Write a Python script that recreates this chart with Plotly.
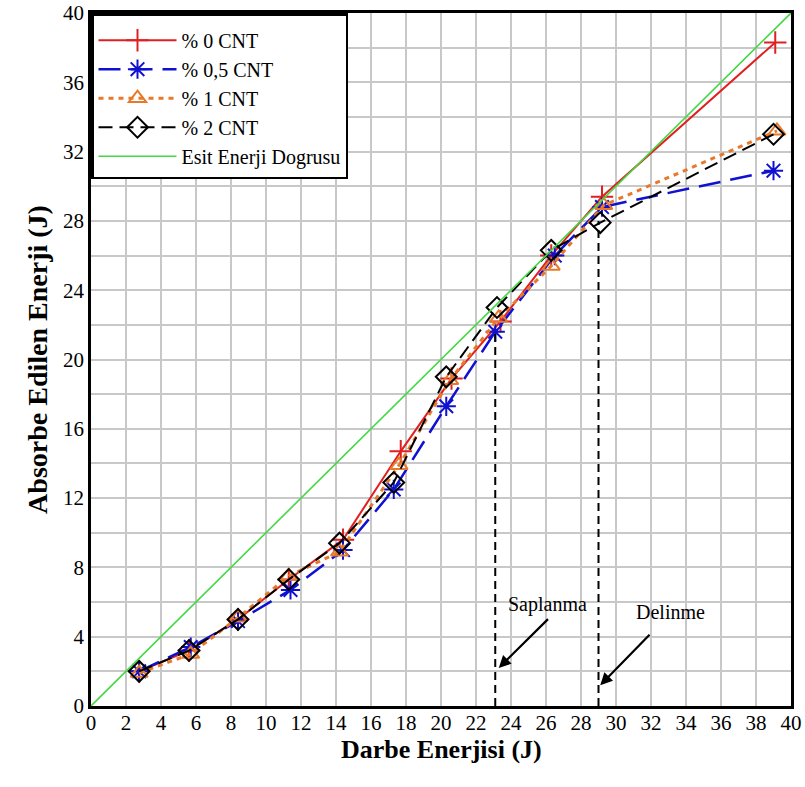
import plotly.graph_objects as go

# Impact energy (J) and absorbed energy (J) for each CNT content
x_cnt0 = [2.75, 5.6, 8.4, 11.3, 14.4, 17.7, 20.6, 23.4, 26.3, 29.2, 39.1]
y_cnt0 = [2.0, 3.2, 5.0, 7.3, 9.6, 14.7, 18.9, 22.2, 26.0, 29.4, 38.3]

x_cnt05 = [2.75, 5.7, 8.4, 11.4, 14.4, 17.3, 20.3, 23.1, 26.5, 29.2, 39.0]
y_cnt05 = [2.0, 3.4, 4.9, 6.7, 9.0, 12.5, 17.3, 21.6, 26.0, 28.8, 30.9]

x_cnt1 = [2.75, 5.7, 8.4, 11.3, 14.2, 17.6, 20.5, 23.3, 26.3, 29.3, 39.2]
y_cnt1 = [1.9, 3.0, 5.1, 7.5, 8.9, 13.9, 18.8, 22.4, 25.4, 28.9, 33.2]

x_cnt2 = [2.75, 5.6, 8.4, 11.3, 14.2, 17.3, 20.3, 23.2, 26.3, 29.1, 39.0]
y_cnt2 = [2.0, 3.2, 5.0, 7.3, 9.4, 12.9, 19.0, 23.0, 26.3, 27.9, 33.0]

# Equal-energy reference line
equal_x = [0, 40]
equal_y = [0, 40]

# Damage transitions: impact energy and the absorbed energy they reach
event_x = [23.1, 29.0]
event_top = [21.6, 28.0]
event_labels = ["Saplanma", "Delinme"]
event_label_pos = [(26.1, 5.85), (33.1, 5.4)]
event_arrow_tail = [(26.2, 5.1), (32.0, 4.2)]
event_arrow_head = [(23.3, 2.2), (29.1, 1.2)]

x_ticks = list(range(0, 41, 2))
y_ticks = list(range(0, 41, 4))

SERIF = "Liberation Serif, Times New Roman, serif"

fig = go.Figure()

fig.add_trace(go.Scatter(
    x=x_cnt0, y=y_cnt0, name="% 0 CNT", mode="lines+markers",
    line=dict(color="#e02020", width=2),
    marker=dict(symbol="cross-thin-open", size=16, color="#e02020",
                line=dict(color="#e02020", width=2)),
))
fig.add_trace(go.Scatter(
    x=x_cnt05, y=y_cnt05, name="% 0,5 CNT", mode="lines+markers",
    line=dict(color="#1010d0", width=2.5, dash="22px,10px"),
    marker=dict(symbol="asterisk-open", size=16, color="#1010d0",
                line=dict(color="#1010d0", width=2)),
))
fig.add_trace(go.Scatter(
    x=x_cnt1, y=y_cnt1, name="% 1 CNT", mode="lines+markers",
    line=dict(color="#e8792a", width=3, dash="5px,5px"),
    marker=dict(symbol="triangle-up-open", size=15, color="#e8792a",
                line=dict(color="#e8792a", width=2)),
))
fig.add_trace(go.Scatter(
    x=x_cnt2, y=y_cnt2, name="% 2 CNT", mode="lines+markers",
    line=dict(color="black", width=2, dash="14px,7px"),
    marker=dict(symbol="diamond-open", size=16, color="black",
                line=dict(color="black", width=2)),
))
fig.add_trace(go.Scatter(
    x=equal_x, y=equal_y, name="Esit Enerji Dogrusu", mode="lines",
    line=dict(color="#44d844", width=1.6),
))

# Vertical dashed markers for the damage transitions
for ex, et in zip(event_x, event_top):
    fig.add_trace(go.Scatter(
        x=[ex, ex], y=[0, et], mode="lines", showlegend=False,
        line=dict(color="black", width=2, dash="8px,5px"), hoverinfo="skip",
    ))

for label, (lx, ly), (tx, ty), (hx, hy) in zip(
        event_labels, event_label_pos, event_arrow_tail, event_arrow_head):
    fig.add_annotation(x=lx, y=ly, text=label, showarrow=False,
                       font=dict(family=SERIF, size=20, color="black"))
    fig.add_annotation(x=hx, y=hy, ax=tx, ay=ty, axref="x", ayref="y",
                       text="", showarrow=True, arrowhead=2, arrowsize=1.1,
                       arrowwidth=2.2, arrowcolor="black")

# X-axis title placed just under the tick labels
fig.add_annotation(x=0.5, y=-0.063, xref="paper", yref="paper",
                   text="<b>Darbe Enerjisi (J)</b>", showarrow=False,
                   xanchor="center", yanchor="middle",
                   font=dict(family=SERIF, size=26, color="black"))

grid_color = "#c8c8c8"

fig.update_xaxes(
    range=[0, 40], tickvals=x_ticks, ticktext=[str(v) for v in x_ticks],
    showgrid=True, gridcolor=grid_color, gridwidth=1.5,
    showline=True, linecolor="black", linewidth=2.5, mirror=True,
    zeroline=False, ticks="", automargin=False, ticklabelstandoff=-4,
    tickfont=dict(family=SERIF, size=21, color="black"),
)
fig.update_yaxes(
    range=[0, 40], tickvals=y_ticks, ticktext=[str(v) for v in y_ticks],
    showgrid=True, gridcolor=grid_color, gridwidth=1.5,
    minor=dict(dtick=2, showgrid=True, gridcolor=grid_color, gridwidth=1.5),
    showline=True, linecolor="black", linewidth=2.5, mirror=True,
    zeroline=False, ticks="", automargin=False,
    tickfont=dict(family=SERIF, size=21, color="black"),
    title=dict(text="<b>Absorbe Edilen Enerji (J)</b>", standoff=8,
               font=dict(family=SERIF, size=28, color="black")),
)

fig.update_layout(
    width=805, height=787,
    margin=dict(l=91, r=14, t=13, b=81),
    paper_bgcolor="white", plot_bgcolor="white",
    showlegend=True,
    legend=dict(
        x=0, y=1, xanchor="left", yanchor="top",
        bgcolor="white", bordercolor="black", borderwidth=2.5,
        font=dict(family=SERIF, size=20, color="black"),
        title=dict(text=" ", font=dict(size=4)),
        tracegroupgap=0, itemwidth=78,
    ),
)

fig.write_html("out.html")
